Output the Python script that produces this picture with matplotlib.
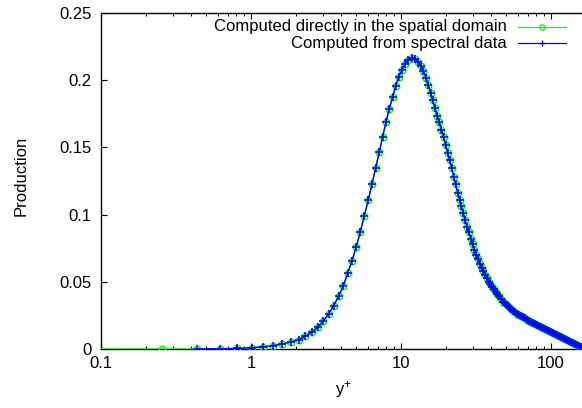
import matplotlib
matplotlib.use("Agg")
import matplotlib.pyplot as plt
from matplotlib.lines import Line2D
from matplotlib.ticker import FixedLocator, NullFormatter

plt.rcParams['font.family'] = ['Liberation Sans', 'DejaVu Sans']
plt.rcParams['mathtext.fontset'] = 'custom'
plt.rcParams['mathtext.rm'] = 'Liberation Sans'
plt.rcParams['mathtext.it'] = 'Liberation Sans'

# wall distance in wall units
yplus = [0.08, 0.257, 0.434, 0.621, 0.81, 1.01, 1.197, 1.395, 1.617, 1.839,
         2.089, 2.301, 2.540, 2.797, 3.034, 3.296, 3.558, 3.843, 4.124, 4.412,
         4.713, 5.035, 5.354, 5.692, 6.053, 6.408, 6.782, 7.168, 7.551, 7.943,
         8.356, 8.804, 9.218, 9.654, 10.15, 10.63, 11.19, 11.79, 12.40, 12.98,
         13.55, 14.11, 14.66, 15.21, 15.75, 16.29, 16.86, 17.43, 18.00, 18.62,
         19.23, 19.83, 20.45, 21.09, 21.75, 22.43, 23.12, 23.84, 24.55, 25.27,
         26.02, 26.79, 27.58, 28.40, 29.24, 30.06, 30.90, 31.77, 32.66, 33.57,
         34.51, 35.48, 36.48, 37.44, 38.43, 39.45, 40.50, 41.57, 42.66, 43.78,
         45.15, 46.56, 48.01, 49.52, 51.05, 52.64, 54.28, 55.98, 57.71, 59.52,
         61.38, 63.29, 65.26, 67.30, 69.40, 71.56, 73.79, 76.10, 78.47, 80.91,
         83.44, 86.04, 88.72, 91.49, 94.34, 97.28, 100.3, 103.4, 106.7, 110.0,
         113.4, 116.9, 120.6, 124.3, 128.2, 132.2, 136.3, 140.6, 145.0, 149.5,
         154.2, 158.9, 163.9]

# production computed in physical space
production_spatial = [
    0.0, 0.000013, 0.00006, 0.00018, 0.0004, 0.0010, 0.0016, 0.0025, 0.0037, 0.0052,
    0.0070, 0.0094, 0.0124, 0.0164, 0.0208, 0.0263, 0.0322, 0.0394, 0.0471, 0.0563,
    0.0657, 0.0761, 0.0873, 0.0990, 0.1109, 0.1228, 0.1349, 0.1466, 0.1580, 0.1689,
    0.1788, 0.1877, 0.1957, 0.2026, 0.2076, 0.2121, 0.2150, 0.2163, 0.2158, 0.2139,
    0.2109, 0.2068, 0.2020, 0.1964, 0.1905, 0.1849, 0.1791, 0.1737, 0.1689, 0.1633,
    0.1577, 0.1518, 0.1462, 0.1403, 0.1347, 0.1283, 0.1224, 0.1164, 0.1112, 0.1064,
    0.1012, 0.0960, 0.0908, 0.0867, 0.0822, 0.0778, 0.0740, 0.0703, 0.0670, 0.0636,
    0.0606, 0.0577, 0.0551, 0.0525, 0.0502, 0.0484, 0.0464, 0.0444, 0.0426, 0.0409,
    0.0391, 0.0372, 0.0353, 0.0339, 0.0324, 0.0310, 0.0298, 0.0286, 0.0275, 0.0264,
    0.0254, 0.0245, 0.0236, 0.0227, 0.0218, 0.0209, 0.0201, 0.0193, 0.0185, 0.0176,
    0.0169, 0.0161, 0.0154, 0.0147, 0.0139, 0.0132, 0.0124, 0.0117, 0.0109, 0.0102,
    0.0094, 0.0087, 0.0080, 0.0072, 0.0065, 0.0057, 0.0050, 0.0042, 0.0035, 0.0028,
    0.0022, 0.0016, 0.0010]

# production from the spectra (available from the third grid point on)
yplus_spectral = yplus[2:]
production_spectral = production_spatial[2:]

x_ticks = [0.1, 1, 10, 100]
x_tick_labels = ["0.1", "1", "10", "100"]
y_ticks = [0, 0.05, 0.1, 0.15, 0.2, 0.25]
y_tick_labels = ["0", "0.05", "0.1", "0.15", "0.2", "0.25"]

label_spatial = "Computed directly in the spatial domain"
label_spectral = "Computed from spectral data"

W, H = 582, 408
fig = plt.figure(figsize=(W / 100, H / 100), dpi=100)
ax = fig.add_axes([101 / W, (H - 349) / H, (W - 101) / W, (349 - 13) / H])

green = "#00ff00"
blue = "#0000ff"
fs = 12

ax.plot(yplus, production_spatial, color=green, lw=1.0, marker='o', ms=4.6,
        mfc='none', mec=green, mew=1.1, zorder=3)
ax.plot(yplus_spectral, production_spectral, color=blue, lw=1.0, marker='+',
        ms=5.2, mec=blue, mew=1.1, zorder=4)

ax.set_xscale('log')
ax.set_xlim(0.1, 10 ** ((W - 101) / 150 - 1))
ax.set_ylim(0, 0.25)

ax.xaxis.set_major_locator(FixedLocator(x_ticks))
ax.set_xticklabels(x_tick_labels)
minors = [m * 10.0 ** e for e in range(-1, 3) for m in range(2, 10)]
ax.xaxis.set_minor_locator(FixedLocator(minors))
ax.xaxis.set_minor_formatter(NullFormatter())
ax.set_yticks(y_ticks)
ax.set_yticklabels(y_tick_labels)

ax.tick_params(axis='both', which='major', direction='in', length=4.5, width=0.8,
               labelsize=fs, top=True, right=False)
ax.tick_params(axis='x', which='minor', direction='in', length=2.3, width=0.7,
               top=True)
ax.tick_params(axis='x', which='major', pad=5)
ax.tick_params(axis='y', which='major', pad=7)

ax.spines['right'].set_visible(False)
for s in ('left', 'bottom', 'top'):
    ax.spines[s].set_linewidth(1.0)
    ax.spines[s].set_color('black')

fig.text(21 / W, 1 - 176 / H, "Production", rotation=90, ha='center', va='center',
         fontsize=fs)
fig.text(343 / W, 1 - 390 / H, "y$^{+}$", ha='center', va='center', fontsize=fs)

# key, text right-aligned with the sample line to its right
for yrow, lab, col, mk, ms in ((26.7, label_spatial, green, 'o', 3.8),
                               (43.3, label_spectral, blue, '+', 5.0)):
    yf = 1 - yrow / H
    fig.text(507 / W, yf, lab, ha='right', va='center', fontsize=fs)
    fig.add_artist(Line2D([517.7 / W, 565.7 / W], [yf, yf], transform=fig.transFigure,
                          color=col, lw=0.9))
    fig.add_artist(Line2D([541.7 / W], [yf], transform=fig.transFigure, color=col,
                          marker=mk, ms=ms, mfc='none', mec=col, mew=0.9))

fig.savefig("out.png", dpi=100)
